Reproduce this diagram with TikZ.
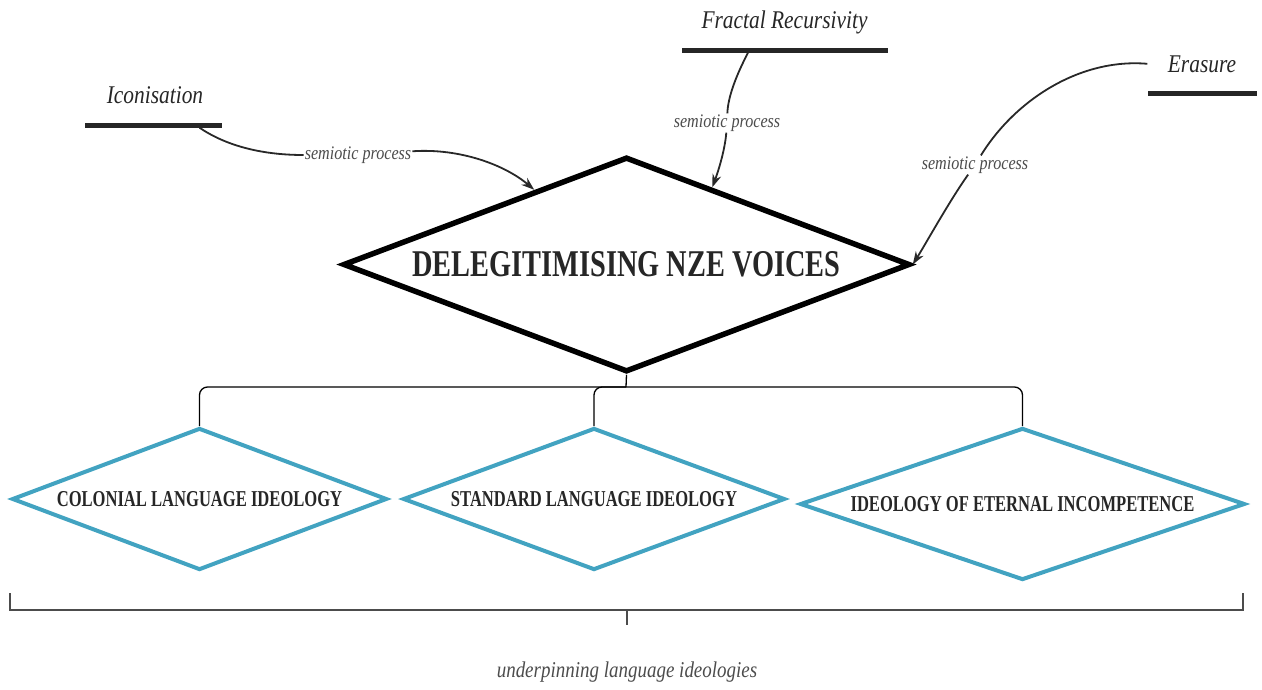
\documentclass[tikz,border=0pt]{standalone}
\usepackage{fontspec}
\setmainfont{Liberation Serif}
\newfontfamily\headfont[FakeStretch=0.75]{Liberation Serif}
\newfontfamily\ideofont[FakeStretch=0.73]{Liberation Serif}
\newfontfamily\labelfont[FakeStretch=0.84]{Liberation Serif}
\usetikzlibrary{shapes.geometric,arrows.meta,calc}
\definecolor{ideoblue}{RGB}{66,163,193}
\definecolor{inkgray}{RGB}{40,40,40}

\begin{document}
\begin{tikzpicture}[x=1pt,y=-1pt,
        bigdia/.style={diamond,draw=black,line width=5.5pt,aspect=2.64,inner sep=0pt,minimum width=567pt,minimum height=215pt,text=black!85,font=\headfont\bfseries\fontsize{37.8}{40}\selectfont},
        ideo/.style={diamond,draw=ideoblue,line width=4pt,aspect=2.64,inner sep=0pt,minimum height=142pt,text=black!85,font=\ideofont\bfseries\fontsize{22.7}{24}\selectfont},
        process/.style={anchor=base,text=black!85,font=\labelfont\itshape\fontsize{25.5}{28}\selectfont},
        bar/.style={fill=black!85,minimum height=5pt,inner sep=0pt},
        semio/.style={fill=white,inner sep=1pt,text=black!70,font=\labelfont\itshape\fontsize{19.2}{21}\selectfont},
        link/.style={line width=1.8pt,draw=inkgray},
        pointer/.style={link,-{Stealth[length=13pt,width=9pt]}}
      ]
        \useasboundingbox (0,0) rectangle (1262,689);
        \node[bigdia] (nze) at (626.5,264.5) {DELEGITIMISING NZE VOICES};
        \node[ideo,minimum width=375pt] (colonial) at (199.5,499) {COLONIAL LANGUAGE IDEOLOGY};
        \node[ideo,minimum width=382pt] (standard) at (594,499) {STANDARD LANGUAGE IDEOLOGY};
        \node[ideo,minimum width=445pt,minimum height=152pt] (eternal) at (1022.5,504) {IDEOLOGY OF ETERNAL INCOMPETENCE};
        % semiotic processes
        \node[process] (icon) at (155,103) {Iconisation};
        \node[bar,minimum width=137pt] (iconbar) at (153.5,125) {};
        \node[process] (fractal) at (784.5,28) {Fractal Recursivity};
        \node[bar,minimum width=206pt] (fractalbar) at (785,50) {};
        \node[process] (erasure) at (1202,72) {Erasure};
        \node[bar,minimum width=109pt] (erasurebar) at (1202.5,93) {};
        \node[semio] (iconlbl) at (358,155) {semiotic process};
        \node[semio] (fractallbl) at (727,123) {semiotic process};
        \node[semio] (erasurelbl) at (975,165) {semiotic process};
        \draw[link] ([xshift=46pt]iconbar.south) .. controls (225,145) and (260,155) .. (iconlbl);
        \draw[pointer] (iconlbl) .. controls (460,148) and (505,165) .. (nze.141);
        \draw[link] ([xshift=-37pt]fractalbar.south) .. controls (738,72) and (728,95) .. (fractallbl);
        \draw[pointer] (fractallbl) .. controls (725,150) and (718,172) .. (nze.42);
        \draw[link] ([xshift=-17pt]erasure.west) .. controls (1080,58) and (1015,100) .. (erasurelbl);
        \draw[pointer] (erasurelbl) .. controls (950,200) and (925,245) .. (nze.east);
        % ideologies below
        \coordinate (split) at (626,387);
        \draw[line width=1.3pt] (nze.south) -- (split);
        \draw[line width=1.3pt,rounded corners=8pt] (colonial.north) |- (split) -| (eternal.north);
        \draw[line width=1.3pt,rounded corners=8pt] (split) -| (standard.north);
        \coordinate (bl) at (10,593); \coordinate (br) at (1243,593); \coordinate (bmid) at (627,610);
        \draw[line width=1.5pt,black!70] (bl) |- (bmid) -| (br);
        \draw[line width=1.2pt,black!70] (bmid) -- ++(0,15);
        \node[text=black!70,font=\labelfont\itshape\fontsize{22.6}{25}\selectfont] (under) at (627,672) {underpinning language ideologies};
      \end{tikzpicture}
\end{document}
